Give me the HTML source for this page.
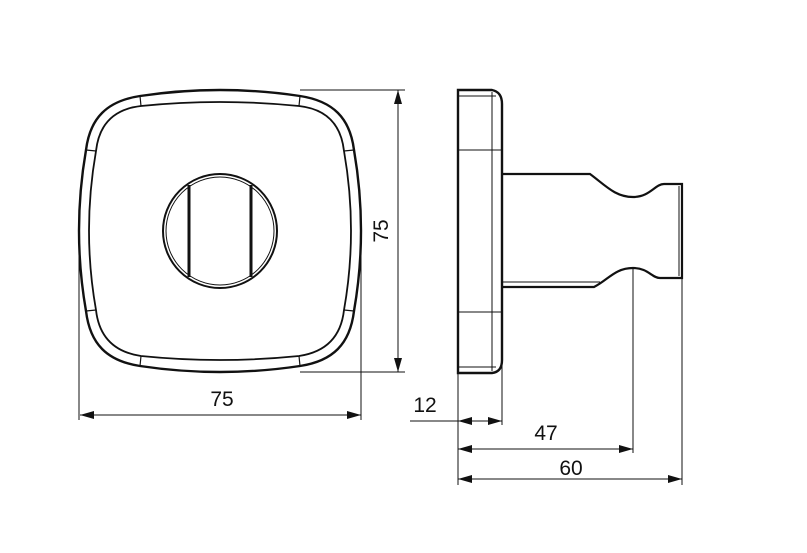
<!DOCTYPE html>
<html><head><meta charset="utf-8"><style>
html,body{margin:0;padding:0;background:#fff;}
svg{display:block}
text{font-family:"Liberation Sans",Arial,sans-serif;font-size:21px;fill:#111}
</style></head><body>
<svg width="807" height="553" viewBox="0 0 807 553" xmlns="http://www.w3.org/2000/svg">
<defs>
<marker id="a" viewBox="0 0 14 8" refX="14" refY="4" markerWidth="14" markerHeight="8" orient="auto-start-reverse" markerUnits="userSpaceOnUse"><path d="M0,0 L14,4 L0,8 z" fill="#111"/></marker>
</defs>
<g fill="none" stroke="#111">
<!-- front view outer -->
<path d="M140,96 Q220,84 300,96 C333,101 350,118 354,150 Q368,231 354,311 C350,344 333,361 300,366 Q220,378 140,366 C107,361 90,344 86,311 Q72,231 86,150 C90,118 107,101 140,96 Z" stroke-width="2.4"/>
<path d="M141,106 Q220,98 299,106 C326,109 341,124 344,151 Q358,231 344,310 C341,337 326,352 299,356 Q220,364 141,356 C114,352 99,337 96,310 Q82,231 96,151 C99,124 114,109 141,106 Z" stroke-width="1.8"/>
<g stroke-width="1.2">
<line x1="140" y1="96" x2="141" y2="106"/><line x1="300" y1="96" x2="299" y2="106"/>
<line x1="140" y1="366" x2="141" y2="356"/><line x1="300" y1="366" x2="299" y2="356"/>
<line x1="86" y1="150" x2="96" y2="151"/><line x1="86" y1="311" x2="96" y2="310"/>
<line x1="354" y1="150" x2="344" y2="151"/><line x1="354" y1="311" x2="344" y2="310"/>
</g>
<circle cx="220" cy="231" r="57" stroke-width="2"/>
<circle cx="220" cy="231" r="54" stroke-width="1"/>
<line x1="189" y1="185" x2="189" y2="277" stroke-width="3"/>
<line x1="251" y1="185" x2="251" y2="277" stroke-width="3"/>
<!-- side view plate -->
<path d="M458,90 L492,90 Q502,92 502,104 L502,360 Q502,372 492,373 L458,373 Z" stroke-width="2.4"/>
<g stroke-width="1">
<line x1="492" y1="92" x2="492" y2="371"/>
<line x1="458" y1="150" x2="502" y2="150"/>
<line x1="458" y1="312" x2="502" y2="312"/>
<line x1="458" y1="367" x2="496" y2="367"/>
<line x1="458" y1="96" x2="496" y2="96"/>
</g>
<!-- stem -->
<path d="M502,174 L590,174 C605,185 615,197 633,197 C650,197 655,184 664,184 L682,184 L682,278 L660,278 C652,278 648,268 633,268 C615,268 608,280 594,287 L502,287" stroke-width="2.2"/>
<line x1="502" y1="282" x2="600" y2="282" stroke-width="1"/>
<line x1="679" y1="186" x2="679" y2="276" stroke-width="1"/>
<!-- dimension / extension lines -->
<g stroke-width="1">
<line x1="300" y1="90" x2="405" y2="90"/>
<line x1="300" y1="372" x2="405" y2="372"/>
<line x1="398" y1="90" x2="398" y2="372" marker-start="url(#a)" marker-end="url(#a)"/>
<line x1="79" y1="231" x2="79" y2="420"/>
<line x1="361" y1="231" x2="361" y2="420"/>
<line x1="80" y1="415" x2="361" y2="415" marker-start="url(#a)" marker-end="url(#a)"/>
<line x1="458" y1="373" x2="458" y2="485"/>
<line x1="502" y1="287" x2="502" y2="425"/>
<line x1="633" y1="268" x2="633" y2="453"/>
<line x1="682" y1="278" x2="682" y2="485"/>
<line x1="410" y1="421" x2="458" y2="421"/>
<line x1="472" y1="421" x2="458" y2="421" marker-end="url(#a)"/>
<line x1="470" y1="421" x2="502" y2="421" marker-end="url(#a)"/>
<line x1="458" y1="449" x2="633" y2="449" marker-start="url(#a)" marker-end="url(#a)"/>
<line x1="458" y1="479" x2="682" y2="479" marker-start="url(#a)" marker-end="url(#a)"/>
</g>
</g>
<text x="222" y="406" text-anchor="middle">75</text>
<text transform="translate(388,231) rotate(-90)" text-anchor="middle">75</text>
<text x="425" y="412" text-anchor="middle">12</text>
<text x="546" y="440" text-anchor="middle">47</text>
<text x="571" y="475" text-anchor="middle">60</text>
</svg>
</body></html>
